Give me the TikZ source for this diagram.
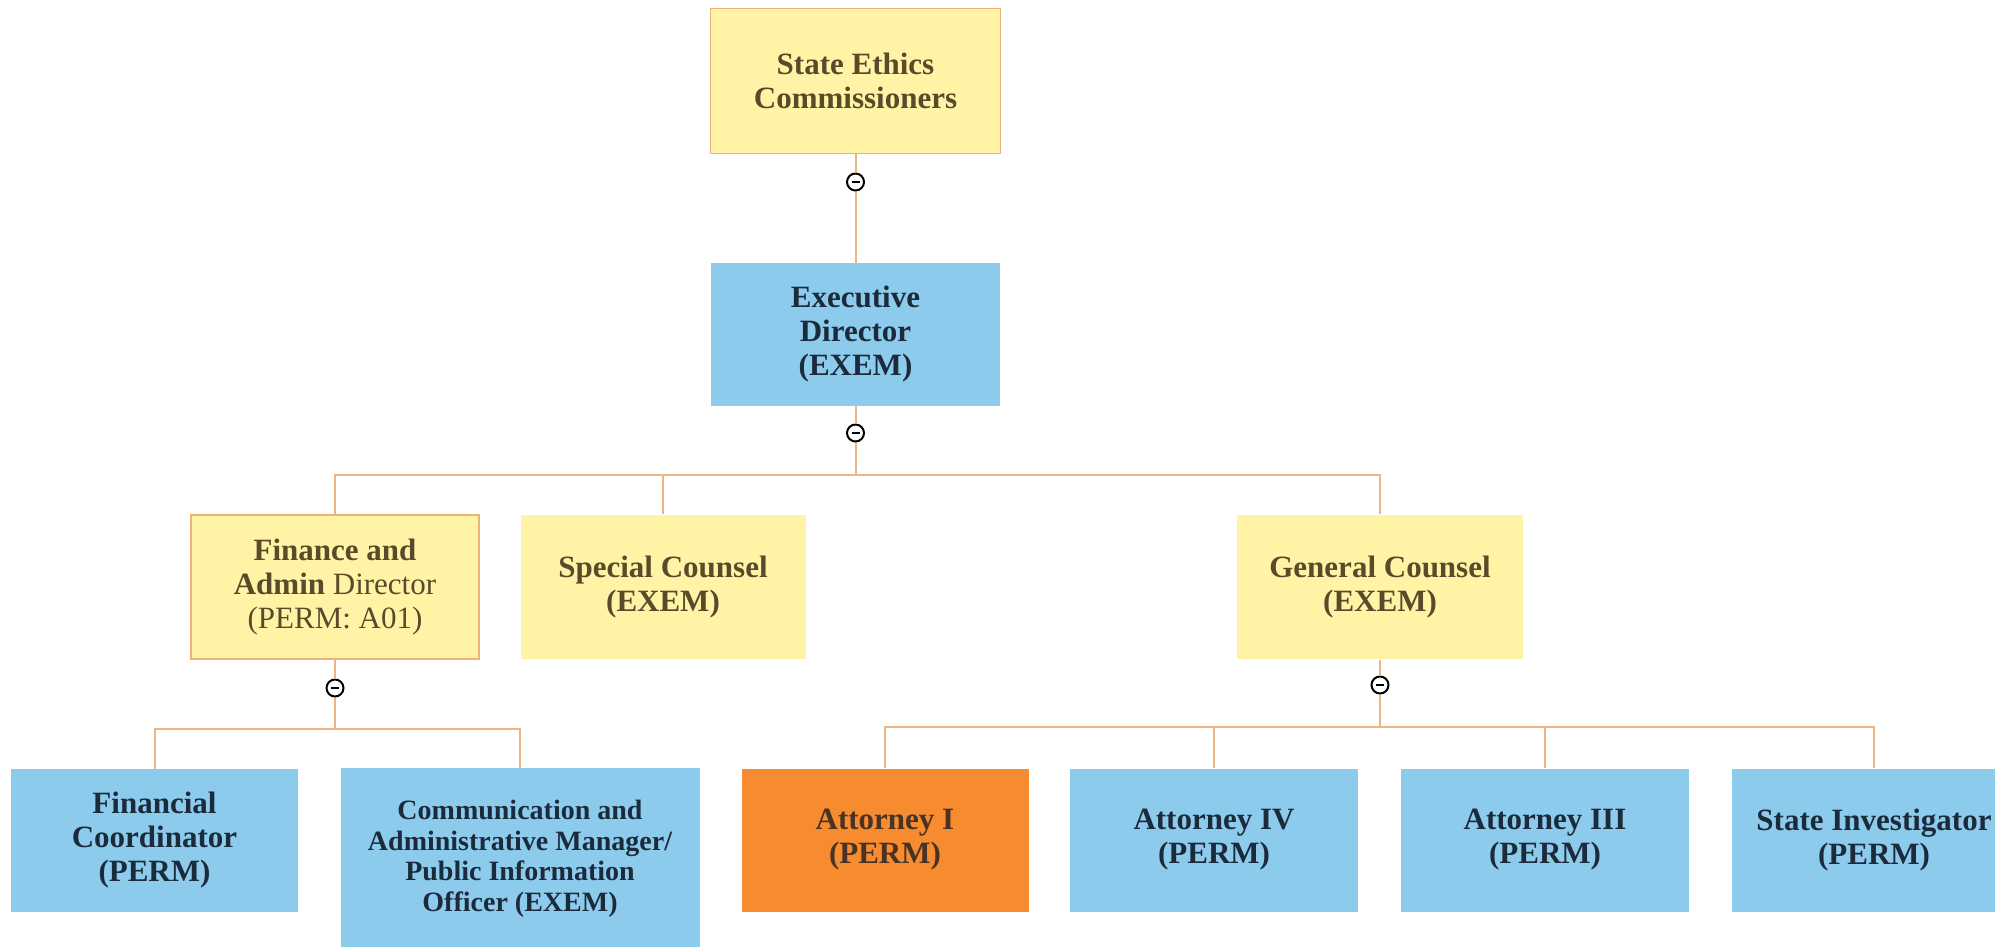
\documentclass[tikz,border=0pt]{standalone}
\usepackage{fontspec}
\setmainfont{Liberation Serif}
\definecolor{yfill}{HTML}{FFF4A6}
\definecolor{bfill}{HTML}{8DCBEC}
\definecolor{ofill}{HTML}{F78B30}
\definecolor{yborder}{HTML}{F0B27A}
\definecolor{conn}{HTML}{EBB583}
\definecolor{ytext}{HTML}{5A4A2A}
\definecolor{btext}{HTML}{1C2B3C}
\definecolor{otext}{HTML}{4A3322}
\tikzset{
  box/.style={rectangle, inner sep=0pt, align=center, font=\fontsize{31}{34}\selectfont\bfseries},
  ybox/.style={box, fill=yfill, draw=yborder, line width=1.5pt, text=ytext},
  bbox/.style={box, fill=bfill, text=btext},
  obox/.style={box, fill=ofill, text=otext},
  wide/.style={minimum width=288pt, minimum height=144pt},
  link/.style={draw=conn, line width=2pt},
  toggle/.style={circle, draw=black, fill=white, line width=2pt, minimum size=17pt, inner sep=0pt,
    path picture={\draw[line width=2.6pt] ([xshift=-4pt]path picture bounding box.center) -- ([xshift=4pt]path picture bounding box.center);}}
}
\begin{document}
\begin{tikzpicture}[x=1pt,y=-1pt]
\clip (0,0) rectangle (1995,946);
\fill[white] (0,0) rectangle (1995,946);
% nodes
\node[ybox, minimum width=290pt, minimum height=145pt] (sec) at (855.5,81) {State Ethics\\Commissioners};
\node[toggle] (t1) at (855.5,182) {};
\node[bbox, draw=yborder, line width=1pt, minimum width=288pt, minimum height=142pt] (ed) at (855.5,334) {Executive\\Director\\(EXEM)};
\node[toggle] (t2) at (855.5,433) {};
\coordinate (h1) at (855.5,475);
\node[ybox, wide] (fad) at (335,587) {Finance and\\Admin {\mdseries Director}\\{\mdseries (PERM: A01)}};
\node[ybox, draw=none, minimum width=285pt, minimum height=144pt] (sc) at (663,587) {Special Counsel\\(EXEM)};
\node[ybox, draw=none, minimum width=286pt, minimum height=144pt] (gc) at (1380,587) {General Counsel\\(EXEM)};
\node[toggle] (t3) at (335,688) {};
\node[toggle] (t4) at (1380,685) {};
\coordinate (h2) at (335,729);
\coordinate (h3) at (1380,727);
\node[bbox, minimum width=287pt, minimum height=143pt] (fc) at (154.5,840.5) {Financial\\Coordinator\\(PERM)};
\node[bbox, minimum width=359pt, minimum height=182pt, font=\fontsize{28}{30.5}\selectfont\bfseries] (cam) at (520,859) {Communication and\\Administrative Manager/\\Public Information\\Officer (EXEM)};
\node[obox, minimum width=287pt, minimum height=143pt] (a1) at (885,840) {Attorney I\\(PERM)};
\node[bbox, minimum width=288pt, minimum height=143pt] (a4) at (1214,840) {Attorney IV\\(PERM)};
\node[bbox, minimum width=288pt, minimum height=143pt] (a3) at (1545,840) {Attorney III\\(PERM)};
\node[bbox, minimum width=284pt, minimum height=143pt] (si) at (1874,840) {State Investigator\\(PERM)};
% connectors
\draw[link] (sec.south) -- (t1.north);
\draw[link] (t1.south) -- (ed.north);
\draw[link] (ed.south) -- (t2.north);
\draw[link] (t2.south) -- (h1);
\draw[link] (fad.north) |- (h1) -| (gc.north);
\draw[link] (sc.north) -- (sc.north |- h1);
\draw[link] (fad.south) -- (t3.north);
\draw[link] (t3.south) -- (h2);
\draw[link] (fc.north) |- (h2) -| (cam.north);
\draw[link] (gc.south) -- (t4.north);
\draw[link] (t4.south) -- (h3);
\draw[link] (a1.north) |- (h3) -| (si.north);
\draw[link] (a4.north) -- (a4.north |- h3);
\draw[link] (a3.north) -- (a3.north |- h3);
\end{tikzpicture}
\end{document}
